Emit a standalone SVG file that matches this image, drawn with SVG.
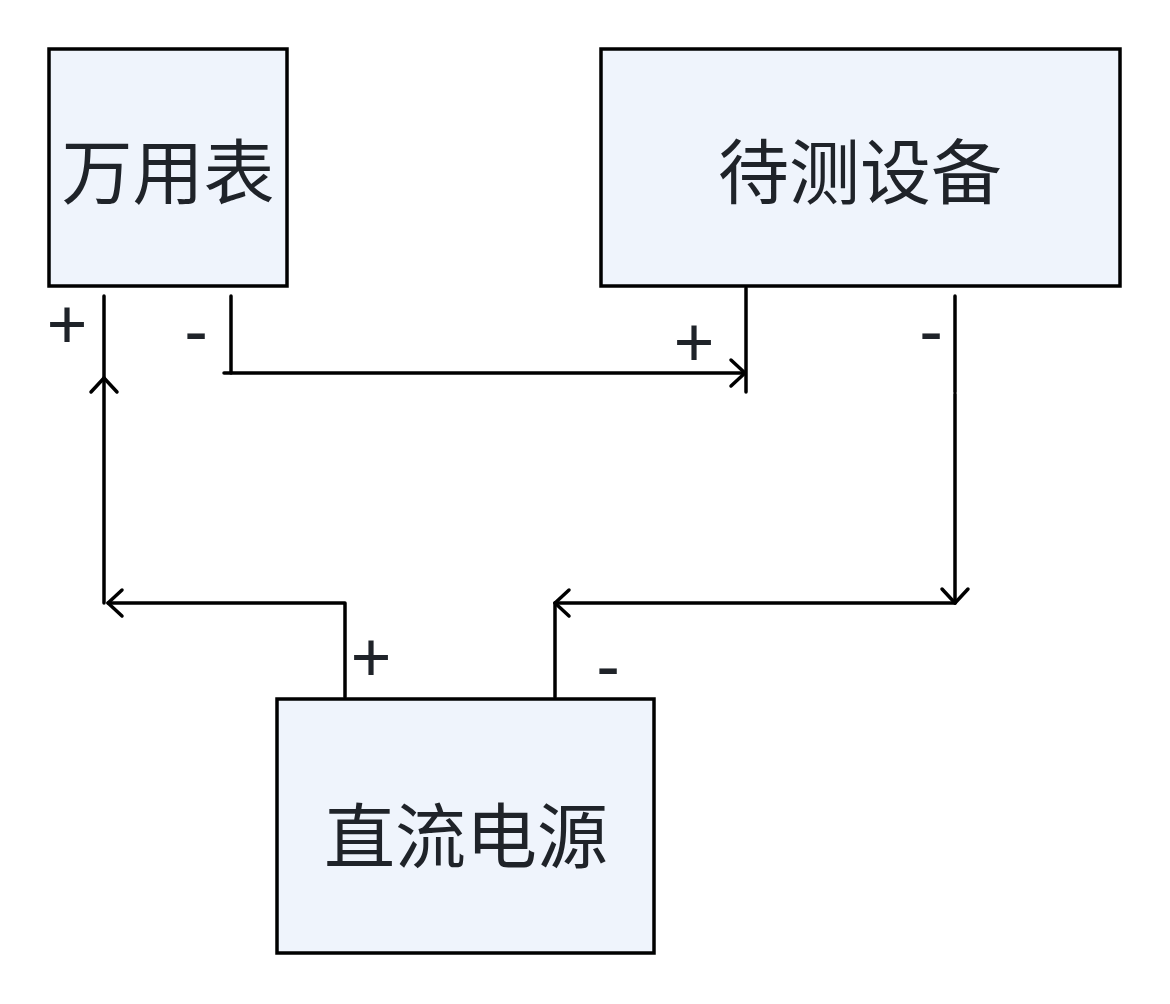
<svg xmlns="http://www.w3.org/2000/svg" width="1170" height="1004" viewBox="0 0 1170 1004">
<style>
.box{fill:#EFF4FC;stroke:#000;stroke-width:3.5}
.lbl{font-family:"Noto Sans CJK SC","Noto Sans",sans-serif;font-size:71px;fill:#1F2329;text-anchor:middle;dominant-baseline:central}
.pm{font-family:"Noto Sans","Noto Sans CJK SC",sans-serif;font-size:72px;fill:#1F2329;text-anchor:middle;dominant-baseline:central}
.w{fill:none;stroke:#000;stroke-width:3.5;stroke-linecap:round;stroke-linejoin:round}
</style>
<defs>
<marker id="arr" markerUnits="userSpaceOnUse" markerWidth="40" markerHeight="40" viewBox="-20 -20 40 40" refX="0" refY="0" orient="auto">
<path d="M-14,-13 L0,0 L-14,13" fill="none" stroke="#000" stroke-width="3.5" stroke-linecap="round" stroke-linejoin="round"/>
</marker>
</defs>
<rect width="1170" height="1004" fill="#fff"/>
<g id="connectors">
<line class="w" x1="104" y1="296" x2="104" y2="378"/>
<line class="w" x1="104" y1="603" x2="104" y2="378" marker-end="url(#arr)"/>
<path class="w" d="M345,697 V603 H108" marker-end="url(#arr)"/>
<line class="w" x1="231" y1="296" x2="231" y2="373"/>
<line class="w" x1="224" y1="373" x2="745" y2="373" marker-end="url(#arr)"/>
<line class="w" x1="746" y1="288" x2="746" y2="392"/>
<line class="w" x1="955" y1="296" x2="955" y2="392"/>
<line class="w" x1="955" y1="394" x2="955" y2="603" marker-end="url(#arr)"/>
<line class="w" x1="955" y1="603" x2="555" y2="603" marker-end="url(#arr)"/>
<line class="w" x1="555" y1="603" x2="555" y2="697"/>
<text class="pm" x="67" y="322">+</text>
<text class="pm" x="196" y="327">-</text>
<text class="pm" x="694" y="340">+</text>
<text class="pm" x="931" y="327">-</text>
<text class="pm" x="371" y="655">+</text>
<text class="pm" x="608" y="662">-</text>
</g>
<g id="multimeter">
<rect class="box" x="49" y="49" width="238" height="237"/>
<text class="lbl" x="168" y="167">万用表</text>
</g>
<g id="dut">
<rect class="box" x="601" y="49" width="519" height="237"/>
<text class="lbl" x="860" y="167">待测设备</text>
</g>
<g id="dcpower">
<rect class="box" x="277" y="699" width="377" height="254"/>
<text class="lbl" x="466" y="831">直流电源</text>
</g>
</svg>
